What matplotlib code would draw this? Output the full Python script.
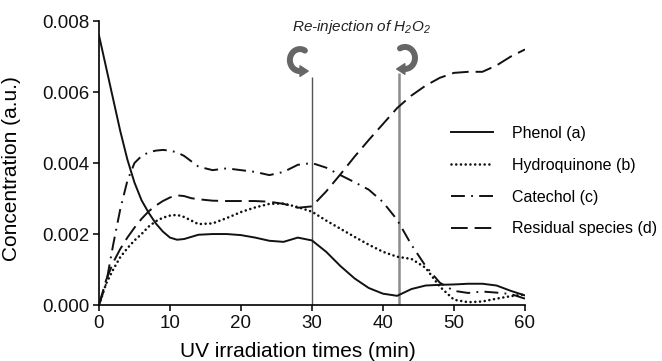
import numpy as np
import matplotlib
matplotlib.use("Agg")
import matplotlib.pyplot as plt
from matplotlib.patches import PathPatch, Polygon
from matplotlib.path import Path
from matplotlib.transforms import ScaledTranslation

plt.rcParams['font.family'] = ['Liberation Sans', 'DejaVu Sans']
plt.rcParams['mathtext.fontset'] = 'custom'
plt.rcParams['mathtext.rm'] = 'Liberation Sans:italic'
plt.rcParams['mathtext.it'] = 'Liberation Sans:italic'
plt.rcParams['lines.scale_dashes'] = False

# sampling times (min)
time_min = [0, 1, 2, 3, 4, 5, 6, 7, 8, 9, 10, 11, 12, 13, 14,
            16, 18, 20, 22, 24, 26, 28, 30, 32, 34, 36, 38, 40,
            42, 44, 46, 48, 50, 52, 54, 56, 58, 60]

phenol = [0.0076, 0.0067, 0.0058, 0.0049, 0.0041, 0.00345, 0.00295, 0.0026,
          0.0023, 0.00207, 0.0019, 0.00184, 0.00186, 0.00192, 0.00198,
          0.00200, 0.00200, 0.00197, 0.00190, 0.00181, 0.00178, 0.00190,
          0.00182, 0.00150, 0.00110, 0.00075, 0.00048, 0.00032,
          0.00026, 0.00045, 0.00055, 0.00057, 0.00058, 0.00060, 0.00060,
          0.00055, 0.00040, 0.00027]

hydroquinone = [0.0, 0.0006, 0.0010, 0.00135, 0.0016, 0.00182, 0.0020, 0.00221,
                0.00236, 0.00246, 0.00252, 0.00254, 0.00248, 0.00238, 0.00228,
                0.00230, 0.00245, 0.00262, 0.00275, 0.00285, 0.00286, 0.00276,
                0.00263, 0.00238, 0.00215, 0.00192, 0.00170, 0.00150,
                0.00136, 0.00130, 0.00105, 0.00052, 0.00015, 0.00008, 0.00010,
                0.00018, 0.00025, 0.00030]

catechol = [0.0, 0.0006, 0.0017, 0.0027, 0.0035, 0.0040, 0.0042, 0.0043,
            0.00435, 0.00437, 0.00435, 0.0043, 0.0042, 0.00405, 0.0039,
            0.0038, 0.00385, 0.0038, 0.00375, 0.00366, 0.00375, 0.00395,
            0.0040, 0.00387, 0.00366, 0.00346, 0.00325, 0.0029,
            0.0024, 0.0017, 0.0011, 0.00063, 0.0004, 0.00034, 0.00038,
            0.00035, 0.00031, 0.00018]

residual = [0.0, 0.0007, 0.0012, 0.00158, 0.0019, 0.00218, 0.00243, 0.00264,
            0.0028, 0.00293, 0.00303, 0.00309, 0.00307, 0.00301, 0.00298,
            0.00294, 0.00293, 0.00293, 0.00293, 0.00291, 0.00285, 0.00274,
            0.00278, 0.0032, 0.00368, 0.00418, 0.00465, 0.0051,
            0.00555, 0.0059, 0.00618, 0.0064, 0.00654, 0.00657, 0.00657,
            0.00675, 0.0070, 0.0072]

labels = ['Phenol (a)', 'Hydroquinone (b)', 'Catechol (c)', 'Residual species (d)']

# H2O2 re-injection times (min)
injection_times = [30, 42.3]

fig = plt.figure(figsize=(6.62, 3.61), dpi=100)
ax = fig.add_axes([0.1495, 0.155, 0.6435, 0.7867])

ink = '#111111'
ax.plot(time_min, phenol, color=ink, lw=1.4, ls='-', label=labels[0], zorder=3)
ax.plot(time_min, hydroquinone, color=ink, lw=1.9, ls=(0, (0.01, 3.4)),
        dash_capstyle='round', label=labels[1], zorder=3)
ax.plot(time_min, catechol, color=ink, lw=1.4, ls=(0, (10, 4.5, 1.3, 4.5)),
        label=labels[2], zorder=3)
ax.plot(time_min, residual, color=ink, lw=1.4, ls=(0, (12, 5)),
        label=labels[3], zorder=3)

# marker lines for the two injections
ax.vlines(injection_times[0], 0, 0.00642, color='#555555', lw=1.0, zorder=2)
ax.vlines(injection_times[1], 0, 0.00653, color='#8c8c8c', lw=1.8, zorder=2)


def curl_arrow(x, y, mirror=False, rx=0.10, ry=0.11):
    """Thick C-shaped arrow centred on (x, y) in data coords; sizes in inches."""
    theta = np.radians(np.linspace(60, 270, 40))
    body = np.column_stack([rx * np.cos(theta), ry * np.sin(theta)])
    end = body[-1]
    head = np.array([end + [0, 0.055], end + [0.085, 0], end - [0, 0.055]])
    if mirror:
        body = body * [-1, 1]
        head = head * [-1, 1]
    trans = fig.dpi_scale_trans + ScaledTranslation(x, y, ax.transData)
    grey = '#666666'
    ax.add_patch(PathPatch(Path(body), fill=False, lw=4.3, edgecolor=grey,
                           capstyle='round', transform=trans, clip_on=False,
                           zorder=4))
    ax.add_patch(Polygon(head, closed=True, facecolor=grey, edgecolor=grey,
                         lw=0.8, transform=trans, clip_on=False, zorder=4))


curl_arrow(injection_times[0] - 1.7, 0.00690)
curl_arrow(injection_times[1] + 0.8, 0.00696, mirror=True)

ax.text(37.0, 0.00783, 'Re-injection of H$_2$O$_2$', style='italic',
        fontsize=11, ha='center', va='center', color='#222222', clip_on=False)

ax.set_xlim(0, 60)
ax.set_ylim(0, 0.008)
ax.set_xticks(range(0, 61, 10))
ax.set_yticks([0, 0.002, 0.004, 0.006, 0.008])
ax.yaxis.set_major_formatter(matplotlib.ticker.FormatStrFormatter('%.3f'))

for side in ['top', 'right']:
    ax.spines[side].set_visible(False)
for side in ['left', 'bottom']:
    ax.spines[side].set_linewidth(1.2)
ax.tick_params(direction='out', length=4, width=1.2, labelsize=13.5, pad=3,
               colors='#111111')

ax.set_xlabel('UV irradiation times (min)', fontsize=15)
ax.set_ylabel('Concentration (a.u.)', fontsize=15)
ax.xaxis.set_label_coords(0.467, -0.13)
ax.yaxis.set_label_coords(-0.183, 0.48)

ax.legend(loc='upper left', bbox_to_anchor=(451 / 662, 1 - 126 / 361),
          bbox_transform=fig.transFigure, frameon=False, fontsize=11.5,
          handlelength=2.6, handletextpad=1.2, labelspacing=1.05,
          borderpad=0, borderaxespad=0)

fig.savefig('out.png', dpi=100)
